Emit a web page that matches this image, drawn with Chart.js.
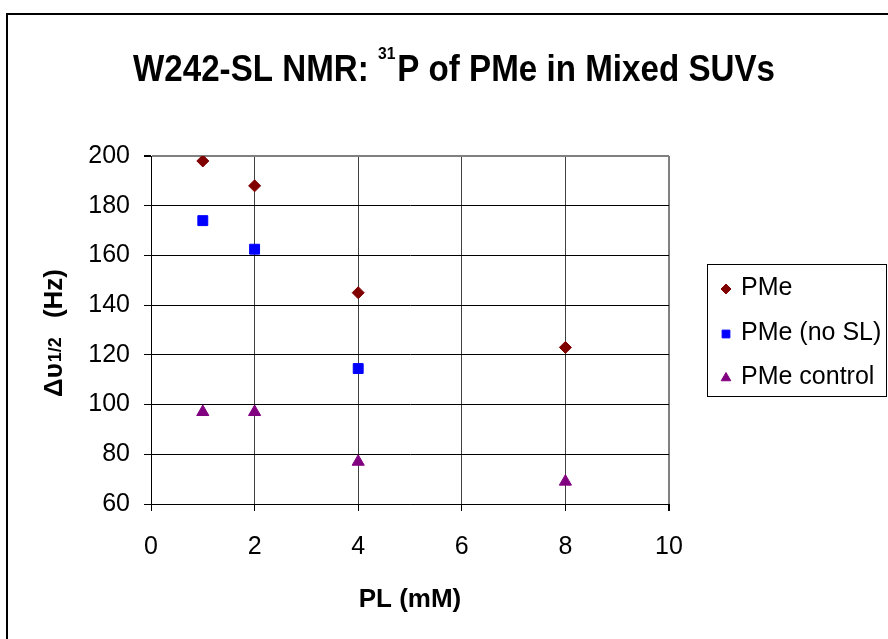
<!DOCTYPE html>
<html>
<head>
<meta charset="utf-8">
<script src="https://cdn.jsdelivr.net/npm/chart.js@4/dist/chart.umd.min.js"></script>
<style>
html,body{margin:0;padding:0;background:#fff;}
#wrap{width:888px;height:639px;}
</style>
</head>
<body>
<div id="wrap"><canvas id="c" width="888" height="639"></canvas></div>
<script>
// ---- data ----
const titleMain1 = 'W242-SL NMR: ';
const titleSup = '31';
const titleMain2 = 'P of PMe in Mixed SUVs';
const yTitleMain = '\u0394\u03C5';
const yTitleSub = '1/2';
const yTitleTail = '(Hz)';
const xTitle = 'PL (mM)';

const seriesNames = ['PMe', 'PMe (no SL)', 'PMe control'];
const pmeX = [1, 2, 4, 8];
const pmeY = [198, 188, 145, 123];
const noSlX = [1, 2, 4];
const noSlY = [174, 162.5, 114.5];
const ctrlX = [1, 2, 4, 8];
const ctrlY = [97, 97, 77, 69];

const xMin = 0, xMax = 10, xStep = 2;
const yMin = 60, yMax = 200, yStep = 20;

const FONT = '"Liberation Sans", Arial, sans-serif';

function pts(xs, ys){ return xs.map((x,i)=>({x:x, y:ys[i]})); }

const deco = {
  id: 'deco',
  beforeDraw(chart){
    const c = chart.ctx;
    c.save(); c.fillStyle = '#fff'; c.fillRect(0,0,chart.width,chart.height); c.restore();
  },
  afterDraw(chart){
    const ctx = chart.ctx;
    ctx.save();
    // outer chart border
    ctx.strokeStyle = '#000'; ctx.lineWidth = 2;
    ctx.strokeRect(7, 14, 1000, 800);

    // title with superscript, horizontally condensed
    ctx.fillStyle = '#000';
    ctx.textBaseline = 'alphabetic';
    ctx.textAlign = 'left';
    const big = 'bold 36px ' + FONT, small = 'bold 17px ' + FONT;
    ctx.font = big; const w1 = ctx.measureText(titleMain1).width;
    const w3 = ctx.measureText(titleMain2).width;
    ctx.font = small; const w2 = ctx.measureText(titleSup).width;
    const total = w1 + w2 + w3 + 2;
    const sx = 642 / total;
    ctx.save();
    ctx.translate(133, 81);
    ctx.scale(sx, 1);
    ctx.font = big; ctx.fillText(titleMain1, 0, 0);
    ctx.font = small; ctx.fillText(titleSup, w1, -22);
    ctx.font = big; ctx.fillText(titleMain2, w1 + w2 + 2, 0);
    ctx.restore();

    // y axis title (rotated, with subscript)
    ctx.save();
    ctx.translate(62, 397);
    ctx.rotate(-Math.PI/2);
    ctx.textBaseline = 'alphabetic';
    const yb = 'bold 26px ' + FONT, ys = 'bold 18px ' + FONT;
    ctx.font = yb; ctx.fillText(yTitleMain, 0, 0);
    let px = ctx.measureText(yTitleMain).width;
    ctx.font = ys; ctx.fillText(yTitleSub, px + 1, -1);
    ctx.font = yb;
    const wt = ctx.measureText(yTitleTail).width;
    ctx.fillText(yTitleTail, 128 - wt, 0);
    ctx.restore();

    // legend box
    ctx.strokeStyle = '#000'; ctx.lineWidth = 1;
    ctx.strokeRect(707.5, 264.5, 179, 132);
    const rowY = [289, 334, 378];
    const legendRadius = [5, 5.5, 5.5];
    chart.data.datasets.forEach((ds, i) => {
      ctx.fillStyle = ds.backgroundColor;
      ctx.strokeStyle = ds.borderColor;
      Chart.helpers.drawPoint(ctx, {pointStyle: ds.pointStyle, radius: legendRadius[i], rotation: 0, borderWidth: 1}, 726, rowY[i]);
      ctx.fillStyle = '#000';
      ctx.font = '25px ' + FONT;
      ctx.textBaseline = 'middle';
      ctx.textAlign = 'left';
      ctx.fillText(ds.label, 741, rowY[i] - 1);
    });
    ctx.restore();
  }
};

new Chart(document.getElementById('c'), {
  type: 'scatter',
  data: {
    datasets: [
      { label: seriesNames[0], data: pts(pmeX, pmeY), pointStyle: 'rectRot', pointRadius: 6, borderWidth: 1,
        backgroundColor: '#800000', borderColor: '#800000' },
      { label: seriesNames[1], data: pts(noSlX, noSlY), pointStyle: 'rect', pointRadius: 7, borderWidth: 1,
        backgroundColor: '#0000FF', borderColor: '#0000FF' },
      { label: seriesNames[2], data: pts(ctrlX, ctrlY), pointStyle: 'triangle', pointRadius: 7, borderWidth: 1,
        backgroundColor: '#800080', borderColor: '#800080' }
    ]
  },
  options: {
    responsive: false,
    devicePixelRatio: 1,
    animation: false,
    layout: { padding: { left: 0, right: 219, top: 156, bottom: 0 } },
    plugins: { legend: { display: false }, title: { display: false }, tooltip: { enabled: false } },
    scales: {
      x: {
        type: 'linear', min: xMin, max: xMax,
        ticks: { stepSize: xStep, color: '#000', font: { family: FONT, size: 25 }, padding: 21, maxRotation: 0 },
        grid: {
          color: c => c.tick && c.tick.value === xMax ? '#808080' : (c.tick && c.tick.value === xMin ? '#000' : '#404040'),
          lineWidth: c => c.tick && c.tick.value === xMax ? 2 : 1,
          tickLength: 7, tickColor: '#000'
        },
        border: { color: '#000', width: 1 },
        title: { display: true, text: xTitle, color: '#000', font: { family: FONT, size: 26, weight: 'bold' }, padding: { top: 0, bottom: 24 } },
        afterFit: s => { s.height = 135; }
      },
      y: {
        type: 'linear', min: yMin, max: yMax,
        ticks: { stepSize: yStep, color: '#000', font: { family: FONT, size: 25 }, padding: 14 },
        grid: {
          color: c => c.tick && c.tick.value === yMax ? '#808080' : '#000',
          lineWidth: c => c.tick && c.tick.value === yMax ? 2 : 1,
          tickLength: 7, tickColor: '#000'
        },
        border: { color: '#000', width: 1 },
        afterFit: s => { s.width = 151; }
      }
    }
  },
  plugins: [deco]
});
</script>
</body>
</html>
